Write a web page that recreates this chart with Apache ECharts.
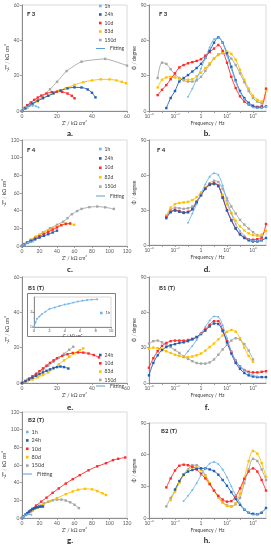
<!DOCTYPE html>
<html><head><meta charset="utf-8">
<script src="https://cdn.jsdelivr.net/npm/echarts@6/dist/echarts.min.js"></script>
<style>html,body{margin:0;padding:0;background:#fff}#c{width:271px;height:550px}</style>
</head><body><div id="c"></div>
<script>
const _ = null;
// ---- Nyquist data [Z', -Z''] in kΩ cm² ----
const A_1H   = [[0,0],[1,1.2],[2.5,2.2],[4,2.8],[6,3],[8,2.7],[9.5,2]];
const A_24H  = [[0,0],[2,1.5],[4,3],[6,4.2],[9,5.8],[12,7.3],[15,8.6],[18,10],[22,11.6],[26,12.8],[30,13.4],[34,13.3],[37.5,12.2],[40,10.3],[42,7.7]];
const A_10D  = [[0,0],[1.5,1.8],[3,3.3],[5,4.8],[7,6.3],[9,7.6],[11,8.7],[14,9.9],[17,10.7],[20,11],[23,10.8],[26,9.9],[28.5,8.6],[30,7.2]];
const A_83D  = [[0,0],[3,2],[6,3.8],[9,5.5],[12,7.2],[15,8.6],[18,10],[21,11.4],[25,13],[30,14.8],[35,16.3],[40,17.3],[45,17.9],[50,17.9],[54,17.3],[57,16.5],[59.5,15.7]];
const A_150D = [[0,0],[3,2],[6,4],[9,6],[12,8.5],[16,12.3],[20,16.5],[25.5,22.6],[34,27.9],[47.5,29.5],[60,25.7]];

const C_1H   = [[0,0],[2,1.5],[4,2.6],[6,3.4],[8,4],[10,4.5],[12.7,4.9]];
const C_24H  = [[0,0],[3,2],[6,3.5],[10,5.3],[15,7.5],[20,9.5],[25,11.5],[30,13.3],[35,15.3],[40,17.4]];
const C_10D  = [[0,0],[3,2],[6,3.7],[10,6],[15,8.5],[20,11],[25,13.5],[30,16],[35,18.5],[40,21],[45,23.5],[50,25],[55,25.5]];
const C_82D  = [[0,0],[3,2.3],[6,4.3],[10,7],[15,10],[20,13],[25,15.5],[30,18],[35,20.5],[40,22.5],[45,24],[50,25.2],[55,25.3],[59.5,24]];
const C_150D = [[0,0],[5,3.5],[10,7],[16,10.5],[24,15.5],[32,20],[40,24],[47,27.5],[52,31.5],[57,36],[63,39.5],[68,42],[77,44],[86,44.7],[95,43.8],[105,42]];

const E_1H   = [[0,0],[0.2,0.6],[0.4,1.1],[0.7,1.4],[1,1.7],[1.5,2.05],[2,2.4],[2.7,2.6],[3.3,2.8],[4,3],[4.5,3.1],[5.1,3.25],[5.7,3.4],[6.3,3.5],[6.9,3.6],[7.5,3.65],[8.2,3.7]];
const E_24H  = [[0,0],[2,1],[4,2],[6,3],[8,4],[10,5],[12,6],[14,6.9],[16,7.7],[18,8.5],[20,9],[22,9.3],[24,9],[26.5,8.2]];
const E_10D  = [[0,0],[2,1.2],[4,2.5],[6,3.8],[8,5.2],[10,6.7],[12,8.3],[14,9.8],[16,11.4],[18,12.8],[20,14],[23,15.3],[26,16.3],[29,17],[32,17.3],[35,17.2],[38,16.7],[41,15.8],[44,14.5]];
const E_83D  = [[0,0],[3,1],[6,2],[9,3.2],[12,4.5],[15,6],[18,8],[21,10.5],[24,12.8],[27,14.8],[30,16.8],[33,18.5],[35,19.6]];
const E_150D = [[0,0],[3,1.8],[6,3.6],[9,5.5],[12,7.5],[15,9.8],[18,12],[21,14.3],[24,16.5],[27,18.8],[29.3,20.5]];

const G_1H   = [[0,0],[1.5,1.5],[3,2.7],[5,3.6],[7,4.1],[9,4.2],[10.7,3.7]];
const G_24H  = [[0,0],[2,2],[4,3.8],[6,5.5],[8,7.2],[10,8.7],[12,10],[14,11],[16,11.8],[18,12.4],[20,12.8],[22,13],[24,13]];
const G_10D  = [[0,0],[4,3.5],[8,7],[12,10.5],[16,14],[22,18.5],[28,23],[35,28.5],[42,33.5],[50,39],[58,44],[66,48.5],[76,54],[86,58.5],[96,62],[104,65.5],[110,67],[118,68.5]];
const G_80D  = [[0,0],[6,4.5],[12,8],[18,11.5],[24,15],[32,19],[40,22.5],[50,27],[58,30],[64,32],[72,33],[80,32.5],[86,30.5],[92,28],[96,26]];
const G_150D = [[0,0],[5,4],[10,7.5],[15,11],[20,14],[25,16.5],[30,18.5],[35,20],[40,20.8],[45,20.8],[50,19.8],[55,17.8],[60,15],[65,11.2]];

// ---- Bode data: frequency (Hz) and phase (degree) ----
const FREQ = [1e-4,2.15e-4,4.64e-4,1e-3,2.15e-3,4.64e-3,0.01,0.0215,0.0464,0.1,0.215,0.464,1,2.15,4.64,10,21.5,46.4,100,215,464,1000,2150,4640,1e4,2.15e4,4.64e4,1e5];
const PHI_B_1H   = [_,_,_,_,_,_,_,_,_,12,19,27,36,45,54,61,62,58,47,36,25,16,10,6,3,2.5,3,4];
const PHI_B_24H  = [_,_,_,_,2.5,11,17,25,28,30.5,33.5,36.5,40,45,51,58,62.5,58,49,37.5,26,17,11,7,4.5,3,3,4];
const PHI_B_10D  = [_,_,13.5,18,22,27,32,37,39,40.5,41.5,42.5,44,47,50,53,56,51,41,29,19.5,12.5,8,5.5,4,3.5,4,19];
const PHI_B_83D  = [_,_,20,26.5,28.5,29,28.5,27.5,27,26.5,27,29.5,32.5,36.5,40.5,44.5,47.5,49.5,50.5,48.5,43.5,35,26.5,19,13,9.5,8,17];
const PHI_B_150D = [_,_,28,41,40,35.5,31,28,26,25,25,26,29,34,39.5,44.5,48,49,48,44.5,39,32,24.5,17,11,8,6.5,_];

const PHI_D_1H   = [_,_,_,_,_,_,_,_,_,19,27,35,44,52,58.5,61.5,60,51,38,27,18,12,8,5,3.5,3.5,4.5,_];
const PHI_D_24H  = [_,_,_,_,23,28,29.5,28.5,27.5,28,30.5,36.5,42.5,48,51.5,52.5,50.5,40.5,29.5,21,14,9,6,4,3,3,4,6];
const PHI_D_10D  = [_,_,_,_,24,28.5,30,29,28,28.5,31,37,43,48.5,52,53,51,41,30,21.5,14.5,9.5,6.5,5,4.5,5,6,18];
const PHI_D_82D  = [_,_,_,_,25,32,35,36,36.5,37,38.5,41,45,49,51.5,52,50,43,35,27.5,21,16,12.5,10,8.5,8,9,12];
const PHI_D_150D = [_,_,_,_,25,30,32,31.5,31,31.5,33,37.5,43,49,53,55,54,48,40,33,27,21.5,17.5,14,11,8.5,7,_];

const PHI_F_1H   = [_,_,_,_,_,_,_,_,22,27,31.5,36.5,42,47.5,53,56.5,56,49,38,27,19,14,11,8.5,6.5,5.5,_,_];
const PHI_F_24H  = [6.5,17,23.5,28,30.5,32,33,34,34.5,35.5,37,39,41.5,44.5,48,50.5,50,44,34.5,25,17,12,8.5,6.5,5.5,5,5,5];
const PHI_F_10D  = [13,21,27,31.5,34,35.5,36,36,36,36.5,37.5,39,42,45.5,49.5,52.5,52.5,45,35.5,26.5,19,14,11,9.5,9,9,9.5,10];
const PHI_F_83D  = [29,30,29.5,28.5,27,25.5,24,23,22,22,22.5,23.5,25,27.5,30.5,33.5,37,40.5,43.5,45,43.5,38,30,23,18,_,_,_];
const PHI_F_150D = [33.5,35.5,36,34.5,32.5,30.5,28,25.5,22.5,20.5,18.5,17,16.5,16.5,17.5,20,24,28.5,32.5,36,38,37,33,27.5,20,_,_,_];

const PHI_H_1H   = [_,_,_,_,_,_,_,_,16,21,26.5,33,40.5,47,51.5,53,51,46,38.5,30,21.5,14,8.5,5,3,3.5,6,_];
const PHI_H_24H  = [_,_,_,_,_,_,27,35,41,44,45.5,46.5,47,47,46,44.5,41,36,30.5,24.5,18,12.5,8,5,4,3.5,5,9.5];
const PHI_H_10D  = [_,_,_,_,29,37.5,45,49.5,50.5,50,48.5,46,42,37.5,32,26,21,17.5,15.5,16,20.5,28,37,44,47,44,36,26];
const PHI_H_80D  = [_,_,_,_,_,17,25,33.5,40.5,45,48,48,45.5,40,33,26,19.5,14.5,11.5,11,14,23,38,54,63.5,61,52,39];
const PHI_H_150D = [_,_,_,_,11,19,26,34,41.5,46,50,50,47,40.5,33,26,20,15,12,11,13,19,33,46,56,54,46,36];

// ---- text ----
const TAGS = ['F 3','F 3','F 4','F 4','B1 (T)','B1 (T)','B2 (T)','B2 (T)'];
const CAPS = ['a.','b.','c.','d.','e.','f.','g.','h.'];
const NYQ_X = "Z' / kΩ cm²", NYQ_Y = "-Z'' / kΩ cm²", BODE_X = 'Frequency / Hz', BODE_Y = 'Φ / degree';

// ---- style ----
const FONT = 'Lato, "Liberation Sans", sans-serif';
const COL = {'1h':'#6fb6ea','24h':'#1f5fb5','10d':'#ff2a2a','83d':'#ffc000','82d':'#ffc000','80d':'#ffc000','150d':'#a6a6a6','Fitting':'#5b9bd5'};
const SYM = {'1h':'diamond','24h':'rect','10d':'rect','83d':'rect','82d':'rect','80d':'rect','150d':'rect'};
const GRIDS = [
  {left:22, top:5, width:105, height:106},
  {left:149, top:5, width:117, height:106},
  {left:22, top:140, width:105, height:106},
  {left:149, top:140, width:117, height:105},
  {left:22, top:277, width:105, height:106},
  {left:149, top:277, width:117, height:106},
  {left:22, top:412, width:105, height:106},
  {left:149, top:423, width:117, height:95},
  {left:34, top:297, width:77, height:30}
];
const LINE = {show:true, onZero:false, lineStyle:{color:'#8c8c8c', width:1}};
const TICK = {show:true, length:2, lineStyle:{color:'#8c8c8c', width:0.8}};
const LBL = {fontSize:5, color:'#595959', margin:2.5, fontFamily:FONT};
const NAMEST = {fontSize:5, color:'#404040', fontFamily:FONT};
const SUP = {'-':'⁻','0':'⁰','1':'¹','2':'²','3':'³','4':'⁴','5':'⁵'};
function logLabel(v){
  const e = Math.round(Math.log10(v));
  if (e % 2 !== 0) return '';
  if (e === 0) return '1';
  return '10' + String(e).split('').map(ch => SUP[ch]).join('');
}

const xAxes = [], yAxes = [];
function nyqAxes(gi, max, ymax){
  xAxes.push({type:'value', gridIndex:gi, min:0, max:max, interval:20, axisLine:LINE, axisTick:TICK,
    minorTick:{show:true, splitNumber:4, length:1.2, lineStyle:{color:'#a0a0a0', width:0.6}},
    axisLabel:LBL, splitLine:{show:false}, name:NYQ_X, nameLocation:'middle', nameGap:10, nameTextStyle:NAMEST});
  yAxes.push({type:'value', gridIndex:gi, min:0, max:ymax, interval:20, axisLine:LINE, axisTick:TICK,
    axisLabel:LBL, splitLine:{show:false}, name:NYQ_Y, nameLocation:'middle', nameGap:12, nameTextStyle:NAMEST});
}
function bodeAxes(gi){
  xAxes.push({type:'log', logBase:10, gridIndex:gi, min:1e-4, max:1e5, axisLine:LINE, axisTick:TICK,
    axisLabel:Object.assign({}, LBL, {formatter:logLabel, showMinLabel:true, showMaxLabel:false}), splitLine:{show:false},
    name:BODE_X, nameLocation:'middle', nameGap:10, nameTextStyle:NAMEST});
  yAxes.push({type:'value', gridIndex:gi, min:0, max:90, interval:30, axisLine:LINE, axisTick:TICK,
    axisLabel:LBL, splitLine:{show:false}, name:BODE_Y, nameLocation:'middle', nameGap:9, nameTextStyle:NAMEST});
}
nyqAxes(0,60,60); bodeAxes(1); nyqAxes(2,120,120); bodeAxes(3);
nyqAxes(4,60,60); bodeAxes(5); nyqAxes(6,120,120); bodeAxes(7);
// inset
xAxes.push({type:'value', gridIndex:8, min:0, max:10, interval:2, axisLine:LINE, axisTick:{show:true,length:1.5,lineStyle:{color:'#8c8c8c'}},
  axisLabel:Object.assign({}, LBL, {fontSize:4, margin:1.5}), splitLine:{show:false},
  name:NYQ_X, nameLocation:'middle', nameGap:6, nameTextStyle:Object.assign({}, NAMEST, {fontSize:4})});
yAxes.push({type:'value', gridIndex:8, min:0, max:4, interval:2, axisLine:LINE, axisTick:{show:true,length:1.5,lineStyle:{color:'#8c8c8c'}},
  axisLabel:Object.assign({}, LBL, {fontSize:4, margin:1.5, showMaxLabel:false}), splitLine:{show:false}});

function S(name, data, gi, extra){
  const c = COL[name];
  return Object.assign({type:'line', name:name, data:data, xAxisIndex:gi, yAxisIndex:gi,
    smooth:0.35, symbol:SYM[name], symbolSize:2.4, showAllSymbol:true, clip:true,
    lineStyle:{width:0.9, color:c}, itemStyle:{color:c}, emphasis:{disabled:true}}, extra || {});
}
function B(name, vals, gi){
  return S(name, FREQ.map((f,i) => [f, vals[i]]).filter(p => p[1] !== null), gi);
}
const series = [
  S('150d',A_150D,0,{smooth:0.15}), S('83d',A_83D,0), S('10d',A_10D,0), S('24h',A_24H,0), S('1h',A_1H,0),
  B('150d',PHI_B_150D,1), B('83d',PHI_B_83D,1), B('10d',PHI_B_10D,1), B('24h',PHI_B_24H,1), B('1h',PHI_B_1H,1),
  S('150d',C_150D,2,{smooth:0.15}), S('82d',C_82D,2), S('10d',C_10D,2), S('24h',C_24H,2), S('1h',C_1H,2),
  B('150d',PHI_D_150D,3), B('82d',PHI_D_82D,3), B('10d',PHI_D_10D,3), B('24h',PHI_D_24H,3), B('1h',PHI_D_1H,3),
  S('150d',E_150D,4), S('83d',E_83D,4), S('10d',E_10D,4), S('24h',E_24H,4),
  B('150d',PHI_F_150D,5), B('83d',PHI_F_83D,5), B('10d',PHI_F_10D,5), B('24h',PHI_F_24H,5), B('1h',PHI_F_1H,5),
  S('150d',G_150D,6), S('80d',G_80D,6), S('10d',G_10D,6), S('24h',G_24H,6), S('1h',G_1H,6),
  B('150d',PHI_H_150D,7), B('80d',PHI_H_80D,7), B('10d',PHI_H_10D,7), B('24h',PHI_H_24H,7), B('1h',PHI_H_1H,7),
  S('1h',E_1H,8),
  {type:'line', name:'Fitting', data:[], xAxisIndex:0, yAxisIndex:0, itemStyle:{color:COL.Fitting}, lineStyle:{color:COL.Fitting}}
];

function LG(names, left, top, gap, fs){
  return {data:names, left:left, top:top, orient:'vertical', itemGap:gap, padding:0, selectedMode:false,
    icon:'rect', itemWidth:2.6, itemHeight:2.6,
    textStyle:{fontSize:fs||5, color:'#404040', fontFamily:FONT, lineHeight:6, padding:[0,0,0,-2]}};
}
function LF(left, top, fs){
  return {data:['Fitting'], left:left, top:top, padding:0, selectedMode:false, icon:'rect', itemWidth:9, itemHeight:1,
    textStyle:{fontSize:fs||5, color:'#404040', fontFamily:FONT, lineHeight:6}};
}
const legends = [
  LG(['1h','24h','10d','83d','150d'], 99, 3, 2.5), LF(96, 45.5),
  LG(['1h','24h','10d','82d','150d'], 99, 146, 3.4), LF(96, 193),
  LG(['24h','10d','83d','150d'], 99, 352, 2.3), LF(96, 383),
  LG(['1h','24h','10d','80d','150d'], 26, 429, 2.4, 5.5), LF(23, 471, 5.5),
  LG(['1h'], 100, 310, 2, 4)
];

const TAGPOS = [[27,14],[159,14],[27,150],[157,150],[28,288],[159,288],[28,420],[161,431]];
const CAPPOS = [[70,133],[207,133],[70,269],[207,269],[70,407],[207,407],[70,540],[207,540]];
const graphic = [];
TAGS.forEach((t,i) => graphic.push({type:'text', x:TAGPOS[i][0], y:TAGPOS[i][1], silent:true,
  style:{text:t, fill:'#262626', font:'bold 6px ' + FONT, align:'left', verticalAlign:'middle'}}));
CAPS.forEach((t,i) => graphic.push({type:'text', x:CAPPOS[i][0], y:CAPPOS[i][1], silent:true,
  style:{text:t, fill:'#1a1a1a', font:'bold 8px ' + FONT, align:'center', verticalAlign:'middle'}}));
graphic.push({type:'rect', silent:true, shape:{x:27.5, y:293.5, width:88, height:43},
  style:{fill:'none', stroke:'#7f7f7f', lineWidth:1}});

const chart = echarts.init(document.getElementById('c'), null, {renderer:'canvas'});
chart.setOption({
  animation:false,
  backgroundColor:'#fff',
  textStyle:{fontFamily:FONT},
  grid: GRIDS.map(g => Object.assign({show:true, borderColor:'#d9d9d9', borderWidth:1, containLabel:false}, g)),
  xAxis: xAxes, yAxis: yAxes, legend: legends, series: series, graphic: graphic
});
</script></body></html>
